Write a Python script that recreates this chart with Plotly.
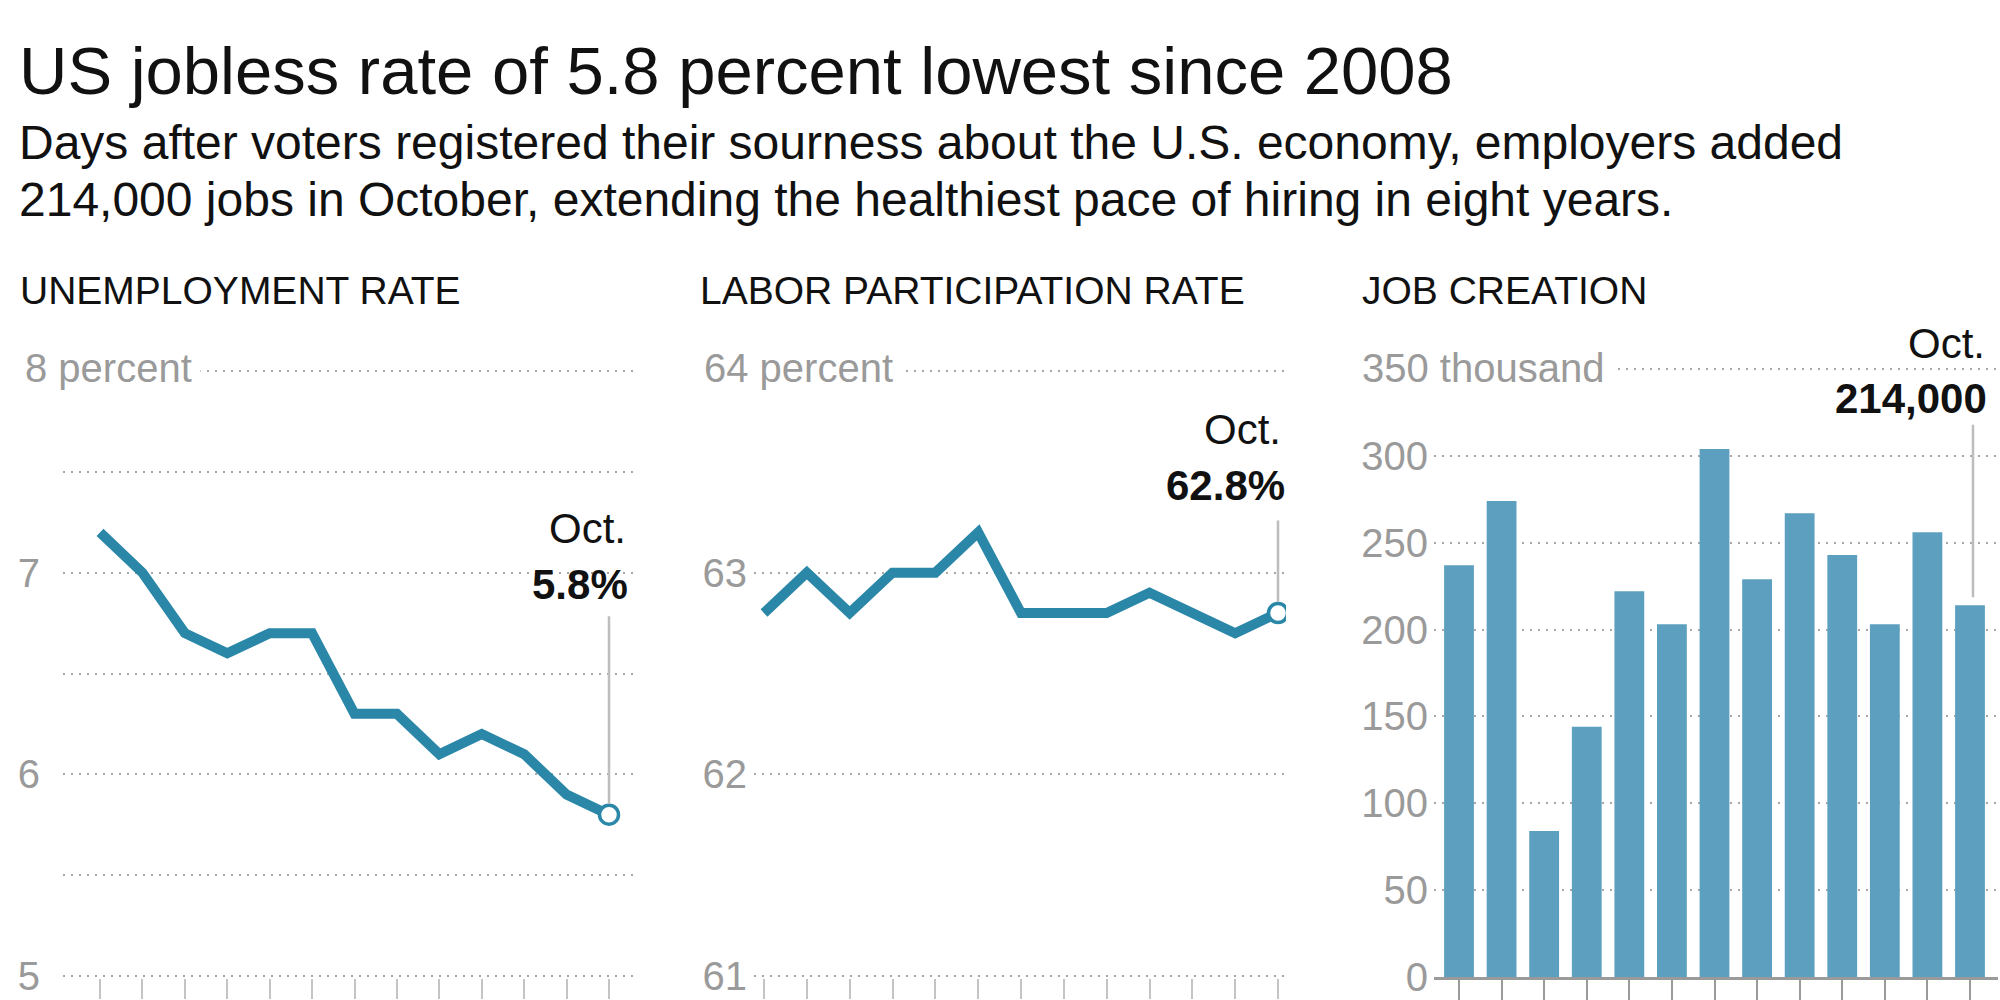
import plotly.graph_objects as go

W, H = 2000, 1000
FONT = "Liberation Sans, Arial, Helvetica, sans-serif"

# ---------------- data ----------------
months = ["Oct 2013", "Nov 2013", "Dec 2013", "Jan 2014", "Feb 2014", "Mar 2014", "Apr 2014",
          "May 2014", "Jun 2014", "Jul 2014", "Aug 2014", "Sep 2014", "Oct 2014"]
unemployment = [7.2, 7.0, 6.7, 6.6, 6.7, 6.7, 6.3, 6.3, 6.1, 6.2, 6.1, 5.9, 5.8]
participation = [62.8, 63.0, 62.8, 63.0, 63.0, 63.2, 62.8, 62.8, 62.8, 62.9, 62.8, 62.7, 62.8]
jobs = [237, 274, 84, 144, 222, 203, 304, 229, 267, 243, 203, 256, 214]

unemp_tickvals = [5, 5.5, 6, 6.5, 7, 7.5, 8]
unemp_ticktext = ["5", "", "6", "", "7", "", ""]
part_tickvals = [61, 62, 63, 64]
part_ticktext = ["61", "62", "63", ""]
jobs_tickvals = [0, 50, 100, 150, 200, 250, 300, 350]
jobs_ticktext = ["0", "50", "100", "150", "200", "250", "300", ""]

title = "US jobless rate of 5.8 percent lowest since 2008"
sub1 = "Days after voters registered their sourness about the U.S. economy, employers added"
sub2 = "214,000 jobs in October, extending the healthiest pace of hiring in eight years."
panel_titles = ["UNEMPLOYMENT RATE", "LABOR PARTICIPATION RATE", "JOB CREATION"]
top_labels = ["8 percent", "64 percent", "350 thousand"]

LINE = "#2a87a8"
BAR = "#5c9fbf"
GRID = "#a8a8a8"
TICKTXT = "#9a9a9a"


# ---------------- layout helpers (pixel geometry) ----------------
def xrange_for(first_px, last_px, d0, d1, n):
    k = (last_px - first_px) / (n - 1)
    return [(d0 - first_px) / k, (n - 1) + (d1 - last_px) / k]


def ydomain_for(v0, p0, v1, p1, r0, r1):
    k = (p1 - p0) / (v1 - v0)
    pa = p0 + (r0 - v0) * k
    pb = p0 + (r1 - v0) * k
    return [1 - pa / H, 1 - pb / H]


n = len(months)
panels = [
    dict(xd=(63, 635), first=100, last=609, yv=(5, 976, 8, 371), yr=(4.99, 8.06), stand=22),
    dict(xd=(754, 1286), first=764, last=1278, yv=(61, 976, 64, 371), yr=(60.99, 64.06), stand=6),
    dict(xd=(1434, 1998), first=1459, last=1970, yv=(0, 977, 350, 369), yr=(0, 360), stand=5),
]

fig = go.Figure()

fig.add_trace(go.Scatter(x=months, y=unemployment, mode="lines",
                         line=dict(color=LINE, width=10), xaxis="x", yaxis="y", hoverinfo="skip"))
fig.add_trace(go.Scatter(x=[months[-1]], y=[unemployment[-1]], mode="markers",
                         marker=dict(color="white", size=19, line=dict(color=LINE, width=3.5)),
                         xaxis="x", yaxis="y", hoverinfo="skip"))
fig.add_trace(go.Scatter(x=months, y=participation, mode="lines",
                         line=dict(color=LINE, width=10), xaxis="x2", yaxis="y2", hoverinfo="skip"))
fig.add_trace(go.Scatter(x=[months[-1]], y=[participation[-1]], mode="markers",
                         marker=dict(color="white", size=19, line=dict(color=LINE, width=3.5)),
                         xaxis="x2", yaxis="y2", hoverinfo="skip"))
fig.add_trace(go.Bar(x=months, y=jobs, marker=dict(color=BAR, line=dict(width=0)), width=0.70,
                     xaxis="x3", yaxis="y3", hoverinfo="skip"))

tick_sets = [(unemp_tickvals, unemp_ticktext), (part_tickvals, part_ticktext),
             (jobs_tickvals, jobs_ticktext)]

layout = dict(
    width=W, height=H, margin=dict(l=0, r=0, t=0, b=0, pad=0, autoexpand=False),
    paper_bgcolor="white", plot_bgcolor="white", showlegend=False,
    font=dict(family=FONT),
)

for i, p in enumerate(panels):
    sfx = "" if i == 0 else str(i + 1)
    xr = xrange_for(p["first"], p["last"], p["xd"][0], p["xd"][1], n)
    v0, p0, v1, p1 = p["yv"]
    yd = ydomain_for(v0, p0, v1, p1, p["yr"][0], p["yr"][1])
    tv, tt = tick_sets[i]
    is_bar = i == 2
    layout["xaxis" + sfx] = dict(
        domain=[p["xd"][0] / W, p["xd"][1] / W], range=xr, type="category",
        anchor="y" + sfx, showgrid=False, zeroline=False, showticklabels=False,
        ticks="outside", ticklen=20, tickwidth=2,
        tickcolor="#9a9a9a" if is_bar else "#c4c4c4",
        showline=is_bar, linecolor="#9a9a9a", linewidth=3, fixedrange=True,
        automargin=False,
    )
    layout["yaxis" + sfx] = dict(
        domain=yd, range=list(p["yr"]), anchor="x" + sfx,
        tickmode="array", tickvals=tv, ticktext=tt,
        showgrid=True, gridcolor=GRID, gridwidth=2, griddash="2px,6px",
        zeroline=False, showline=False, ticks="",
        tickfont=dict(family=FONT, size=40, color=TICKTXT),
        ticklabelstandoff=p["stand"], fixedrange=True, automargin=False,
    )

ann = []
# title & subtitle
ann.append(dict(text=title, x=17 / W, y=1 - 70 / H, xref="paper", yref="paper",
                xanchor="left", yanchor="middle", showarrow=False,
                font=dict(family=FONT, size=67, color="#111")))
ann.append(dict(text=sub1, x=17 / W, y=1 - 142 / H, xref="paper", yref="paper",
                xanchor="left", yanchor="middle", showarrow=False,
                font=dict(family=FONT, size=48, color="#111")))
ann.append(dict(text=sub2, x=17 / W, y=1 - 200 / H, xref="paper", yref="paper",
                xanchor="left", yanchor="middle", showarrow=False,
                font=dict(family=FONT, size=48, color="#111")))

# panel titles
for t, x in zip(panel_titles, [18, 698, 1360]):
    ann.append(dict(text=t, x=x / W, y=1 - 291 / H, xref="paper", yref="paper",
                    xanchor="left", yanchor="middle", showarrow=False,
                    font=dict(family=FONT, size=39, color="#111")))

# top axis labels with white background hiding the start of the gridline
for t, x, y in zip(top_labels, [16, 695, 1353], [368, 368, 368]):
    ann.append(dict(text=t, x=x / W, y=1 - y / H, xref="paper", yref="paper",
                    xanchor="left", yanchor="middle", showarrow=False, bgcolor="white",
                    borderpad=8, font=dict(family=FONT, size=40, color=TICKTXT)))

# callouts
callouts = [
    dict(ax="", yv=unemployment[-1], label="5.8%", tail=-200, stand=11,
         oct_shift=(19, 286), val_shift=(21, 230)),
    dict(ax="2", yv=participation[-1], label="62.8%", tail=-94, stand=11,
         oct_shift=(5, 183), val_shift=(9, 127)),
    dict(ax="3", yv=jobs[-1], label="214,000", tail=-182, stand=8,
         oct_shift=(17, 262), val_shift=(19, 207)),
]
for c in callouts:
    xref, yref = "x" + c["ax"], "y" + c["ax"]
    ann.append(dict(text="", x=months[-1], y=c["yv"], xref=xref, yref=yref,
                    showarrow=True, arrowhead=0, arrowwidth=2.5, arrowcolor="#bdbdbd",
                    ax=0, ay=c["tail"], standoff=c["stand"],
                    xshift=3 if c["ax"] == "3" else 0))
    ann.append(dict(text="Oct.", x=months[-1], y=c["yv"], xref=xref, yref=yref,
                    showarrow=False, xanchor="right", yanchor="middle",
                    xshift=c["oct_shift"][0], yshift=c["oct_shift"][1],
                    font=dict(family=FONT, size=42, color="#111")))
    ann.append(dict(text="<b>" + c["label"] + "</b>", x=months[-1], y=c["yv"],
                    xref=xref, yref=yref, showarrow=False, xanchor="right", yanchor="middle",
                    xshift=c["val_shift"][0], yshift=c["val_shift"][1],
                    font=dict(family=FONT, size=42, color="#111")))

layout["annotations"] = ann
fig.update_layout(**layout)

fig.write_html("out.html", config={"displayModeBar": False})
